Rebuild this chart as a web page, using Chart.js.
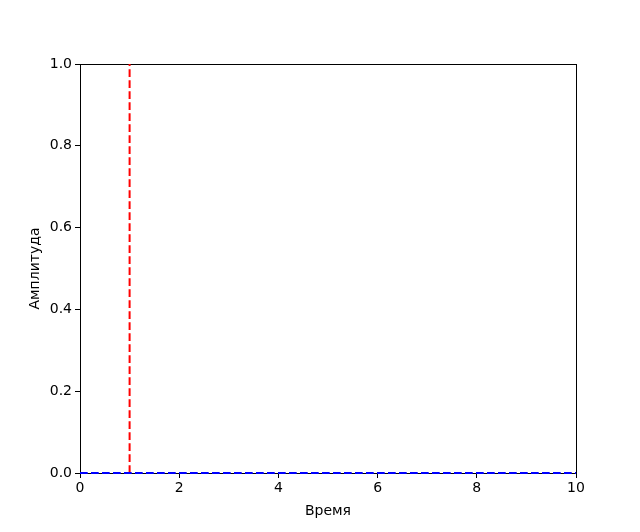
<!DOCTYPE html>
<html>
<head>
<meta charset="utf-8">
<script src="https://cdn.jsdelivr.net/npm/chart.js@4"></script>
<style>
  html, body { margin: 0; padding: 0; background: #fff; }
  #wrap { width: 640px; height: 532px; }
</style>
</head>
<body>
<div id="wrap"><canvas id="signalChart" width="640" height="532"></canvas></div>
<script>
// impulse marker (red) and baseline signal (blue)
const impulseX = [1, 1];
const impulseY = [0, 1];
const signalX = [0, 10];
const signalY = [0, 0];

const xTicks = [0, 2, 4, 6, 8, 10];
const yTicks = [0, 0.2, 0.4, 0.6, 0.8, 1.0];

const font = { family: "'DejaVu Sans', sans-serif", size: 14 };

// frame around the plot area, like matplotlib spines
const framePlugin = {
  id: "frame",
  beforeDatasetsDraw(chart) {
    const { ctx, chartArea: a } = chart;
    ctx.save();
    ctx.strokeStyle = "#000";
    ctx.lineWidth = 1;
    ctx.strokeRect(Math.round(a.left) + 0.5, Math.round(a.top) + 0.5,
      Math.round(a.right - a.left), Math.round(a.bottom - a.top));
    ctx.restore();
  }
};

const ctx = document.getElementById("signalChart").getContext("2d");
new Chart(ctx, {
  type: "line",
  data: {
    datasets: [
      {
        data: signalX.map((x, i) => ({ x, y: signalY[i] })),
        borderColor: "#0000ff",
        borderWidth: 2,
        borderDash: [7.7, 3.3],
        pointRadius: 0,
        clip: false
      },
      {
        data: impulseX.map((x, i) => ({ x, y: impulseY[i] })),
        borderColor: "#ff0000",
        borderWidth: 2,
        borderDash: [7.7, 3.3],
        pointRadius: 0,
        clip: false
      }
    ]
  },
  plugins: [framePlugin],
  options: {
    responsive: false,
    animation: false,
    layout: { padding: { top: 64, right: 64, left: 0, bottom: 12 } },
    plugins: { legend: { display: false }, tooltip: { enabled: false } },
    scales: {
      x: {
        type: "linear",
        min: 0,
        max: 10,
        afterFit: s => { s.height = 47; },
        afterBuildTicks: s => { s.ticks = xTicks.map(v => ({ value: v })); },
        border: { display: false },
        grid: { drawOnChartArea: false, drawTicks: true, tickLength: 5, color: "#000" },
        ticks: { color: "#000", font, padding: 2, maxRotation: 0, callback: v => String(v) },
        title: { display: true, text: "Время", color: "#000", font, padding: { top: 2, bottom: 0 } }
      },
      y: {
        type: "linear",
        min: 0,
        max: 1,
        afterFit: s => { s.width = 80; },
        afterBuildTicks: s => { s.ticks = yTicks.map(v => ({ value: v })); },
        border: { display: false },
        grid: { drawOnChartArea: false, drawTicks: true, tickLength: 5, color: "#000" },
        ticks: { color: "#000", font, padding: 3, callback: v => v.toFixed(1) },
        title: { display: true, text: "Амплитуда", color: "#000", font, padding: { top: 27, bottom: 0 } }
      }
    }
  }
});
</script>
</body>
</html>
